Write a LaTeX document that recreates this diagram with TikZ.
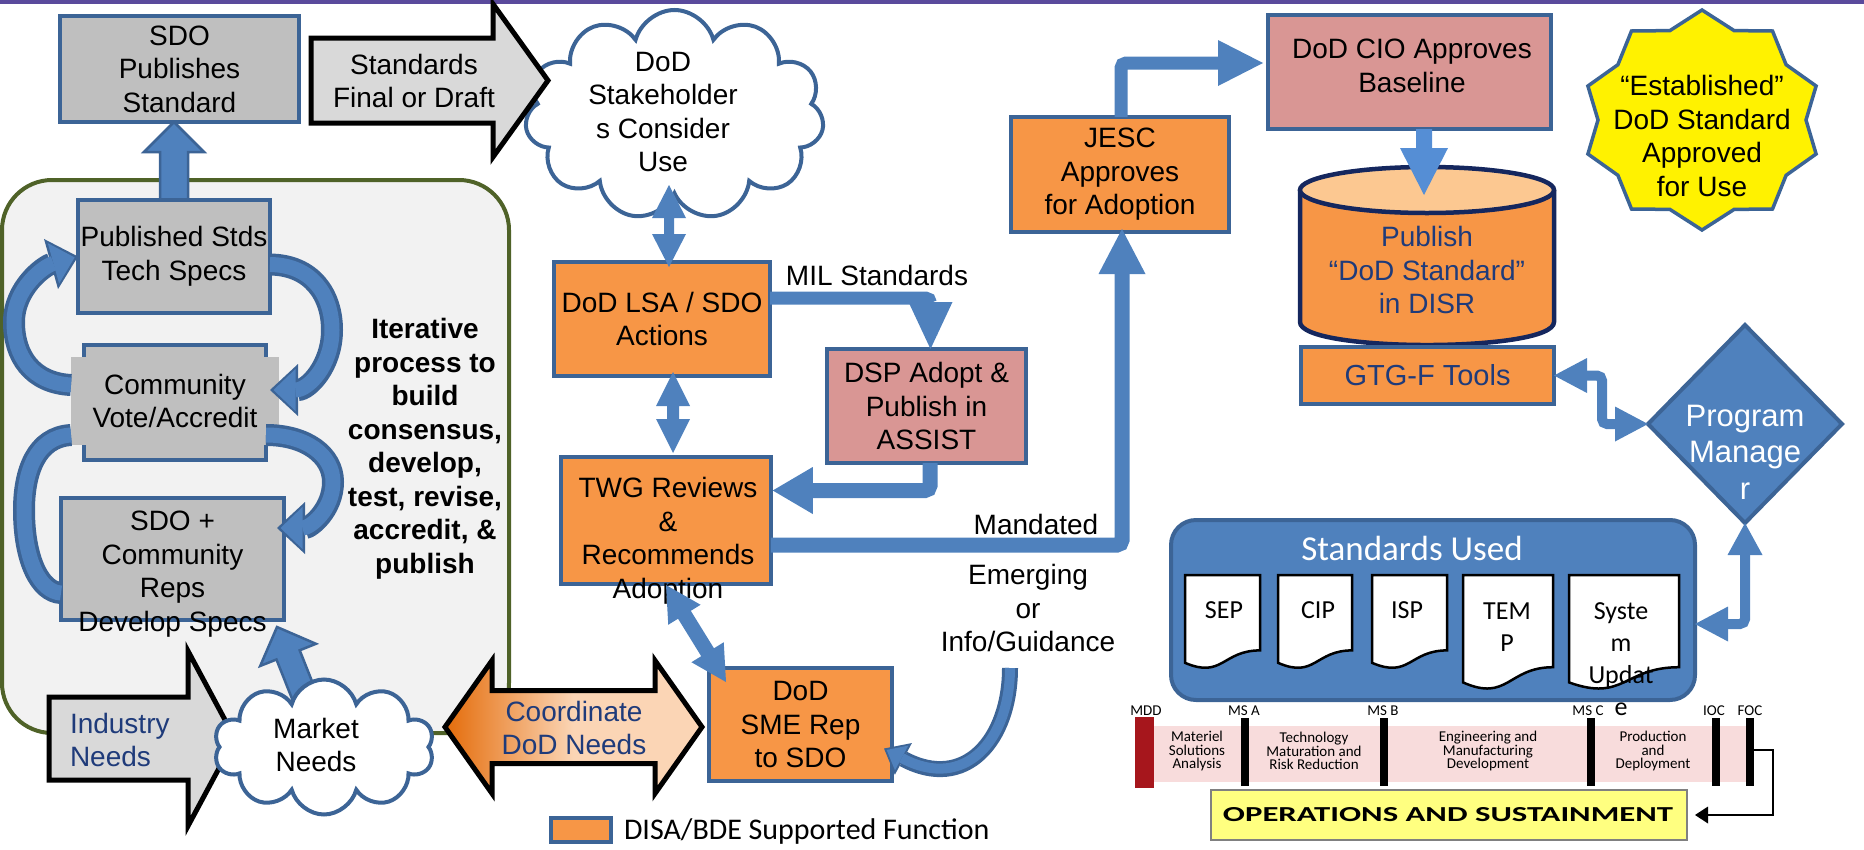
\documentclass[tikz,border=0pt]{standalone}
\usepackage{fontspec}
\usepackage{graphicx}
\setmainfont{Liberation Sans}
\newfontfamily\calib{Carlito}
\usetikzlibrary{shapes.symbols,shapes.geometric,arrows.meta,calc}
\definecolor{bluef}{HTML}{4F81BD}
\definecolor{bdr}{HTML}{3C6496}
\definecolor{grayf}{HTML}{BFBFBF}
\definecolor{orangef}{HTML}{F79646}
\definecolor{pinkf}{HTML}{D99694}
\definecolor{lgray}{HTML}{D9D9D9}
\definecolor{frameg}{HTML}{4F6228}
\definecolor{framef}{HTML}{F2F2F2}
\definecolor{navy}{HTML}{1F3B7A}
\definecolor{cylb}{HTML}{15275E}
\definecolor{cyltop}{HTML}{FCC891}
\definecolor{purp}{HTML}{5A4A9C}
\definecolor{pinkband}{HTML}{F8DCDC}
\definecolor{mddred}{HTML}{A6161C}
\definecolor{osy}{HTML}{FFFF80}
\definecolor{orgdark}{HTML}{E46C0A}
\definecolor{peach}{HTML}{FBD5B5}
\definecolor{arrl}{HTML}{558ED5}
\newcommand\fs{\fontsize{28}{33.5}\selectfont}
% single block arrow: [style]{start}{tip}{half shaft}{half head}{head length}
\newcommand{\barr}[6][]{%
  \path #2 coordinate (bA) #3 coordinate (bB);
  \path ($(bB)!#6!(bA)$) coordinate (bH);
  \path[#1] ($(bA)!#4!90:(bB)$) -- ($(bH)!#4!90:(bB)$) -- ($(bH)!#5!90:(bB)$) -- (bB)
    -- ($(bH)!#5!-90:(bB)$) -- ($(bH)!#4!-90:(bB)$) -- ($(bA)!#4!-90:(bB)$) -- cycle;}
% double block arrow
\newcommand{\darr}[6][]{%
  \path #2 coordinate (bA) #3 coordinate (bB);
  \path ($(bA)!#6!(bB)$) coordinate (bHa) ($(bB)!#6!(bA)$) coordinate (bHb);
  \path[#1] (bA) -- ($(bHa)!#5!90:(bB)$) -- ($(bHa)!#4!90:(bB)$) -- ($(bHb)!#4!90:(bB)$)
    -- ($(bHb)!#5!90:(bB)$) -- (bB) -- ($(bHb)!#5!-90:(bB)$) -- ($(bHb)!#4!-90:(bB)$)
    -- ($(bHa)!#4!-90:(bB)$) -- ($(bHa)!#5!-90:(bB)$) -- cycle;}
% curved loop arrow with border
\newcommand{\looparr}[1]{%
  \draw[draw=bdr,line width=22pt,-{Triangle[length=28pt,width=52pt,line width=0pt]}] #1;
  \draw[draw=bluef,line width=15pt,shorten >=3.5pt,-{Triangle[length=22pt,width=42pt,line width=0pt]}] #1;}
\newcommand{\loopband}[1]{%
  \draw[draw=bdr,line width=22pt] #1;
  \draw[draw=bluef,line width=15pt] #1;}
\begin{document}
\begin{tikzpicture}[x=1pt,y=-1pt,
  every node/.style={inner sep=0pt,outer sep=0pt},
  box/.style={draw=bdr,line width=4pt,align=center,font=\fs},
  gbox/.style={box,fill=grayf},
  obox/.style={box,fill=orangef},
  pbox/.style={box,fill=pinkf},
  txt/.style={align=center,font=\fs},
  conn/.style={draw=bluef,rounded corners=5pt},
  blk/.style={fill=bluef,draw=bdr,line width=2.5pt,line join=miter},
  blkp/.style={fill=bluef},
  bigarr/.style={fill=lgray,draw=black,line width=5pt,line join=miter},
  cloudst/.style={cloud,cloud ignores aspect,draw=bdr,fill=white,line width=4pt},
  docst/.style={draw=black,fill=white,line width=2.5pt},
  cal/.style={font=\calib\fontsize{26}{32}\selectfont,align=center},
  tl/.style={font=\calib\fontsize{15}{13.5}\selectfont,align=center},
  ms/.style={font=\calib\fontsize{15}{15}\selectfont},
]
\useasboundingbox (0,0) rectangle (1864,849);
\fill[purp] (0,0) rectangle (1864,3.5);

% ---------- left frame ----------
\node[draw=frameg,fill=framef,line width=4pt,rounded corners=50pt,minimum width=507pt,minimum height=553pt] (frame) at (255.5,456.5) {};

\node[gbox,minimum width=239pt,minimum height=106pt] (sdo) at (179.5,69) {SDO\\Publishes\\Standard};
\node[gbox,minimum width=192pt,minimum height=113pt] (pub) at (174,256.5) {};
\barr[blk]{(pub.north)}{(pub.north |- sdo.south)}{14pt}{30pt}{30pt}
\node[gbox,minimum width=192pt,minimum height=113pt] (pub) at (174,256.5) {Published Stds\\Tech Specs};
\node[box,fill=grayf,minimum width=182pt,minimum height=115pt] (comm) at (175,402.5) {};
\node[fill=grayf,minimum width=208pt,minimum height=88pt,align=center,font=\fs] (commt) at (175,401) {Community\\Vote/Accredit};
\node[gbox,minimum width=223pt,minimum height=122pt] (sdoc) at (172.5,559) {};

% loop arrows
\looparr{($(commt.west)+(0,-16)$) .. controls (32,383) and (14,356) .. (14,322) .. controls (14,288) and (44,266) .. (pub.west)}
\looparr{($(pub.east)+(0,8)$) .. controls (312,265) and (332,295) .. (332,330) .. controls (332,366) and (308,390) .. ($(commt.east)+(-9,-11)$)}
\loopband{($(commt.west)+(0,34)$) .. controls (36,437) and (24,472) .. (24,510) .. controls (24,560) and (40,592) .. ($(sdoc.west)+(0,34)$)}
\looparr{($(comm.east)+(0,32.5)$) .. controls (306,435) and (333,455) .. (333,482) .. controls (333,510) and (310,528) .. ($(sdoc.east)+(-7,-31)$)}
\node[txt] (sdoct) at (172.5,574) {SDO +\\Community\\Reps\\Develop Specs};

\node[align=center,font=\fs\bfseries] (iter) at (425,449) {Iterative\\process to\\build\\consensus,\\develop,\\test, revise,\\accredit, \&\\publish};

% ---------- DoD cloud and standards arrow ----------
\node[cloudst,cloud puffs=11,minimum width=299pt,minimum height=210pt] (dodc) at (674.5,115) {};
\node[txt] (dodct) at (663,112) {DoD\\Stakeholder\\s Consider\\Use};
\coordinate (stdA) at (311,80.5);
\coordinate (stdB) at (548,80.5);
\barr[bigarr]{(stdA)}{(stdB)}{42.5pt}{76.5pt}{55pt}
\node[txt] (stdt) at (414,81) {Standards\\Final or Draft};

% ---------- middle column ----------
\node[obox,minimum width=216pt,minimum height=114pt] (lsa) at (662,319) {DoD LSA / SDO\\Actions};
\darr[blkp]{($(lsa.north)+(7,-77)$)}{($(lsa.north)+(7,5)$)}{5pt}{17pt}{33pt}
\node[obox,minimum width=209.5pt,minimum height=127pt] (twg) at (666,520.5) {};
\darr[blkp]{($(lsa.south)+(11,-4)$)}{($(twg.north)+(7,-4)$)}{6pt}{17pt}{34pt}
\node[pbox,minimum width=199pt,minimum height=114pt] (dsp) at (926.5,406) {DSP Adopt \&\\Publish in\\ASSIST};

\draw[conn,line width=13pt,-{Triangle[length=47pt,width=44pt,line width=0pt]}] ($(lsa.east)+(0,-21)$) -- ($(dsp.north)+(4,-51)$) -- ($(dsp.north)+(4,0)$);
\node[txt] (milt) at (877,275) {MIL Standards};
\draw[conn,line width=15pt,-{Triangle[length=40pt,width=47pt,line width=0pt]}] ($(dsp.south)+(3.5,0)$) -- ($(dsp.south)+(3.5,27.5)$) -- ($(twg.east)+(2,-30)$);

\node[obox,minimum width=218pt,minimum height=115pt] (jesc) at (1120,174.5) {JESC\\Approves\\for Adoption};
\draw[conn,line width=15pt,-{Triangle[length=45pt,width=47pt,line width=0pt]}] ($(twg.east)+(0,24.5)$) -- ($(jesc.south)+(2,313)$) -- ($(jesc.south)+(2,-3)$);
\node[txt] (mand) at (1036,524) {Mandated};
\node[txt] (emer) at (1028,608) {Emerging\\or\\Info/Guidance};

\node[txt] (twgt) at (668,541) {TWG Reviews\\\&\\Recommends\\Adoption};

\node[obox,minimum width=183pt,minimum height=113pt] (sme) at (800.5,724.5) {DoD\\SME Rep\\to SDO};
\coordinate (emerEnd) at (1010,668);
\draw[draw=bdr,line width=16pt,-{Triangle[length=22pt,width=36pt,line width=0pt]}] (emerEnd) .. controls (1010,740) and (965,792) .. ($(sme.east)+(-8,24)$);
\draw[draw=bluef,line width=10pt,shorten >=3pt,-{Triangle[length=17pt,width=28pt,line width=0pt]}] (emerEnd) .. controls (1010,740) and (965,792) .. ($(sme.east)+(-8,24)$);
\darr[blkp]{($(twg.south)+(0,1)$)}{($(sme.north west)+(17,14)$)}{7.5pt}{19pt}{35pt}

% ---------- bottom left ----------
\barr[bigarr]{(49,738.5)}{(235,738.5)}{41.5pt}{87.5pt}{47pt}
\node[txt,text=navy,align=left,anchor=west] (indt) at (70,740) {Industry\\Needs};
\barr[blk]{(306,700)}{($(sdoc.south)+(104.5,7)$)}{12.5pt}{30pt}{30pt}
\node[cloudst,cloud puffs=10,minimum width=220pt,minimum height=135pt] (mkt) at (324,747) {};
\node[txt] (mktt) at (316,745) {Market\\Needs};
\darr[draw=black,line width=5pt,line join=miter,left color=orgdark,right color=peach,middle color=peach]{(445,727)}{($(sme.west)+(-7,2.5)$)}{36.5pt}{66.5pt}{47pt}
\node[txt,text=navy] (coordt) at (574,728) {Coordinate\\DoD Needs};

% legend
\node[draw=bdr,fill=orangef,line width=4pt,minimum width=60pt,minimum height=24pt] (leg) at (581,830) {};
\node[anchor=west,font=\calib\fontsize{30}{36}\selectfont] (legt) at (624,831) {DISA/BDE Supported Function};

% ---------- top right ----------
\node[pbox,minimum width=283pt,minimum height=114pt] (cio) at (1409.5,72) {};
\node[txt] (ciot) at (1412,66) {DoD CIO Approves\\Baseline};
\draw[conn,line width=13pt,-{Triangle[length=45pt,width=46pt,line width=0pt]}] ($(jesc.north)+(1,0)$) -- ($(jesc.north)+(1,-54)$) -- ($(cio.west)+(-5,-9)$);

\node[minimum width=254pt,minimum height=178pt] (disr) at (1427,256) {};
\fill[orangef] (1300,190) -- (1300,322) .. controls (1300,352.7) and (1554,352.7) .. (1554,322) -- (1554,190) -- cycle;
\draw[cylb,line width=4.5pt] (1300,190) -- (1300,322) .. controls (1300,352.7) and (1554,352.7) .. (1554,322) -- (1554,190);
\draw[fill=cyltop,draw=cylb,line width=4.5pt] (1427,190) ellipse [x radius=127pt,y radius=23pt];
\node[txt,text=navy] (disrt) at (1427,270) {Publish\\“DoD Standard”\\in DISR};
\barr[fill=arrl]{($(cio.south)+(14.5,0)$)}{($(cio.south)+(14.5,66)$)}{8pt}{24pt}{47pt}

\node[obox,minimum width=253pt,minimum height=57pt,font=\fontsize{29}{34}\selectfont,text=navy] (gtg) at (1427.5,375.5) {GTG-F Tools};

% star
\coordinate (starc) at (1702,120);
\draw[fill=yellow,draw=bdr,line width=3.5pt,line join=miter]
 (1702,10) -- (1734.1,30.6) -- (1772.5,31) -- (1786.1,64.7) -- (1816.1,86) -- (1806,120)
 -- (1816.1,154) -- (1786.1,175.3) -- (1772.5,209) -- (1734.1,209.4) -- (1702,230)
 -- (1669.9,209.4) -- (1631.5,209) -- (1617.9,175.3) -- (1587.9,154) -- (1598,120)
 -- (1587.9,86) -- (1617.9,64.7) -- (1631.5,31) -- (1669.9,30.6) -- cycle;
\node[txt] (start) at (1702,136) {“Established”\\DoD Standard\\Approved\\for Use};

% program manager
\node[diamond,draw=bdr,fill=bluef,line width=4pt,minimum width=194pt,minimum height=198pt] (pm) at (1745,424) {};
\node[align=center,font=\fontsize{31}{36.5}\selectfont,text=white] (pmt) at (1745,452) {Program\\Manage\\r};
\draw[conn,line width=10pt,{Triangle[length=33pt,width=35pt,line width=0pt]}-{Triangle[length=33pt,width=35pt,line width=0pt]}] (gtg.east) -- ($(gtg.east)+(48,0)$) -- ($(pm.west)+(-46,0)$) -- (pm.west);

% standards used
\node[draw=bdr,fill=bluef,line width=4pt,rounded corners=25pt,minimum width=524pt,minimum height=180pt] (stdu) at (1433,610) {};
\draw[conn,line width=10pt,{Triangle[length=32pt,width=35pt,line width=0pt]}-{Triangle[length=33pt,width=35pt,line width=0pt]}] (pm.south) -- ($(pm.south)+(0,101)$) -- ($(stdu.east)+(0,14)$);
\node[font=\calib\fontsize{35}{40}\selectfont,text=white] (stdut) at (1412,548) {Standards Used};

\draw[docst] (1185,575) -- (1260,575) -- (1260,650.4) .. controls (1222.5,650.4) and (1222.5,679) .. (1185,662.8) -- cycle;
\draw[docst] (1278,575) -- (1352,575) -- (1352,650.4) .. controls (1315,650.4) and (1315,679) .. (1278,662.8) -- cycle;
\draw[docst] (1372,575) -- (1447,575) -- (1447,650.4) .. controls (1409.5,650.4) and (1409.5,679) .. (1372,662.8) -- cycle;
\draw[docst] (1463,575) -- (1553,575) -- (1553,667.2) .. controls (1508,667.2) and (1508,702.3) .. (1463,682.4) -- cycle;
\draw[docst] (1569,575) -- (1679,575) -- (1679,667.2) .. controls (1624,667.2) and (1624,702.3) .. (1569,682.4) -- cycle;
\node[cal] (sep) at (1224,610) {SEP};
\node[cal] (cip) at (1318,610) {CIP};
\node[cal] (isp) at (1407,610) {ISP};
\node[cal] (temp) at (1507,627) {TEM\\P};
\node[cal] (sysu) at (1621,659) {Syste\\m\\Updat\\e};

% timeline
\fill[mddred] (1135,717) rectangle (1154,788);
\fill[pinkband] (1154,726) rectangle (1748,782);
\foreach \bx in {1245,1384,1591,1716,1750} { \fill[black] (\bx-4,718) rectangle (\bx+4,786); }
\coordinate (focbar) at (1750,750);
\node[ms] (mdd) at (1146,711) {MDD};
\node[ms] (msa) at (1244,711) {MS A};
\node[ms] (msb) at (1383,711) {MS B};
\node[ms] (msc) at (1588,711) {MS C};
\node[ms] (ioc) at (1714,711) {IOC};
\node[ms] (foc) at (1750,711) {FOC};
\node[tl] (ph1) at (1197,751) {Materiel\\Solutions\\Analysis};
\node[tl] (ph2) at (1314,751) {Technology\\Maturation and\\Risk Reduction};
\node[tl] (ph3) at (1488,751) {Engineering and\\Manufacturing\\Development};
\node[tl] (ph4) at (1653,751) {Production\\and\\Deployment};
\node[draw=black!50,fill=osy,line width=1.5pt,minimum width=476pt,minimum height=50pt] (os) at (1449,815) {};
\node (ost) at (1448,815) {\resizebox{450pt}{14pt}{\calib\bfseries OPERATIONS AND SUSTAINMENT}};
\draw[black,line width=2.2pt,-{Triangle[length=13pt,width=17pt,line width=0pt]}] (focbar) -- (1773,750) -- (1773,815) -- ($(os.east)+(8,0)$);
\end{tikzpicture}
\end{document}
